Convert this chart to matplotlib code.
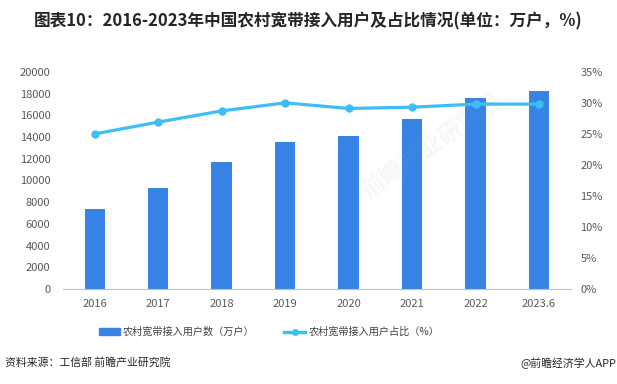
import matplotlib
matplotlib.use('Agg')
import matplotlib.pyplot as plt
from matplotlib.lines import Line2D
from matplotlib.patches import Patch

plt.rcParams['font.family'] = ['Noto Sans CJK SC', 'DejaVu Sans']

years = ['2016', '2017', '2018', '2019', '2020', '2021', '2022', '2023.6']
users = [7400, 9300, 11700, 13500, 14100, 15700, 17600, 18200]   # 万户
share = [25.0, 26.9, 28.7, 30.0, 29.1, 29.3, 29.8, 29.8]       # %

bar_color = '#3784E6'
line_color = '#3DBFF5'
tick_color = '#595959'

fig = plt.figure(figsize=(6.17, 3.84), dpi=100)
ax = fig.add_axes([0.102, 0.247, 0.823, 0.566])
x = list(range(len(years)))
ax.bar(x, users, width=0.32, color=bar_color, zorder=2)
ax.set_xlim(-0.5, len(years) - 0.5)
ax.set_ylim(0, 20000)
ax.set_yticks(range(0, 20001, 2000))
ax.set_xticks(x)
ax.set_xticklabels(years)
for s in ['top', 'right', 'left']:
    ax.spines[s].set_visible(False)
ax.spines['bottom'].set_color('#bfbfbf')
ax.spines['bottom'].set_linestyle((0, (1, 1)))
ax.tick_params(axis='both', length=0, labelsize=8, colors=tick_color)
ax.tick_params(axis='x', pad=7)
ax.tick_params(axis='y', pad=9)

ax2 = ax.twinx()
ax2.plot(x, share, color=line_color, lw=2.3, marker='o', ms=5, zorder=3)
ax2.set_ylim(0, 35)
ax2.set_yticks(range(0, 36, 5))
ax2.set_yticklabels([f'{v}%' for v in range(0, 36, 5)])
for s in ['top', 'right', 'left', 'bottom']:
    ax2.spines[s].set_visible(False)
ax2.tick_params(axis='y', length=0, labelsize=8, colors=tick_color, pad=7)

# faint watermark
fig.text(0.70, 0.62, '前瞻产业研究院', ha='center', va='center', fontsize=17,
         fontweight='bold', rotation=35, color='#8899aa', alpha=0.08)

fig.text(0.5, 0.943, '图表10：2016-2023年中国农村宽带接入用户及占比情况(单位：万户，%)',
         ha='center', va='center', fontsize=12, fontweight='bold', color='#262626')

handles = [Patch(color=bar_color),
           Line2D([0], [0], color=line_color, lw=2.5, marker='o', ms=4)]
labels = ['农村宽带接入用户数（万户）', '农村宽带接入用户占比（%）']
fig.legend(handles, labels, loc='center left', bbox_to_anchor=(0.16, 0.136), ncol=2,
           frameon=False, fontsize=7.3, handlelength=2.1, handleheight=0.6,
           columnspacing=2.9, handletextpad=0.3, borderpad=0, borderaxespad=0,
           labelcolor='#404040')

fig.text(0.008, 0.055, '资料来源：工信部 前瞻产业研究院', ha='left', va='center',
         fontsize=7.8, color='#262626')
fig.text(0.999, 0.055, '@前瞻经济学人APP', ha='right', va='center',
         fontsize=7.8, color='#262626')

fig.savefig('out.png', dpi=100)
